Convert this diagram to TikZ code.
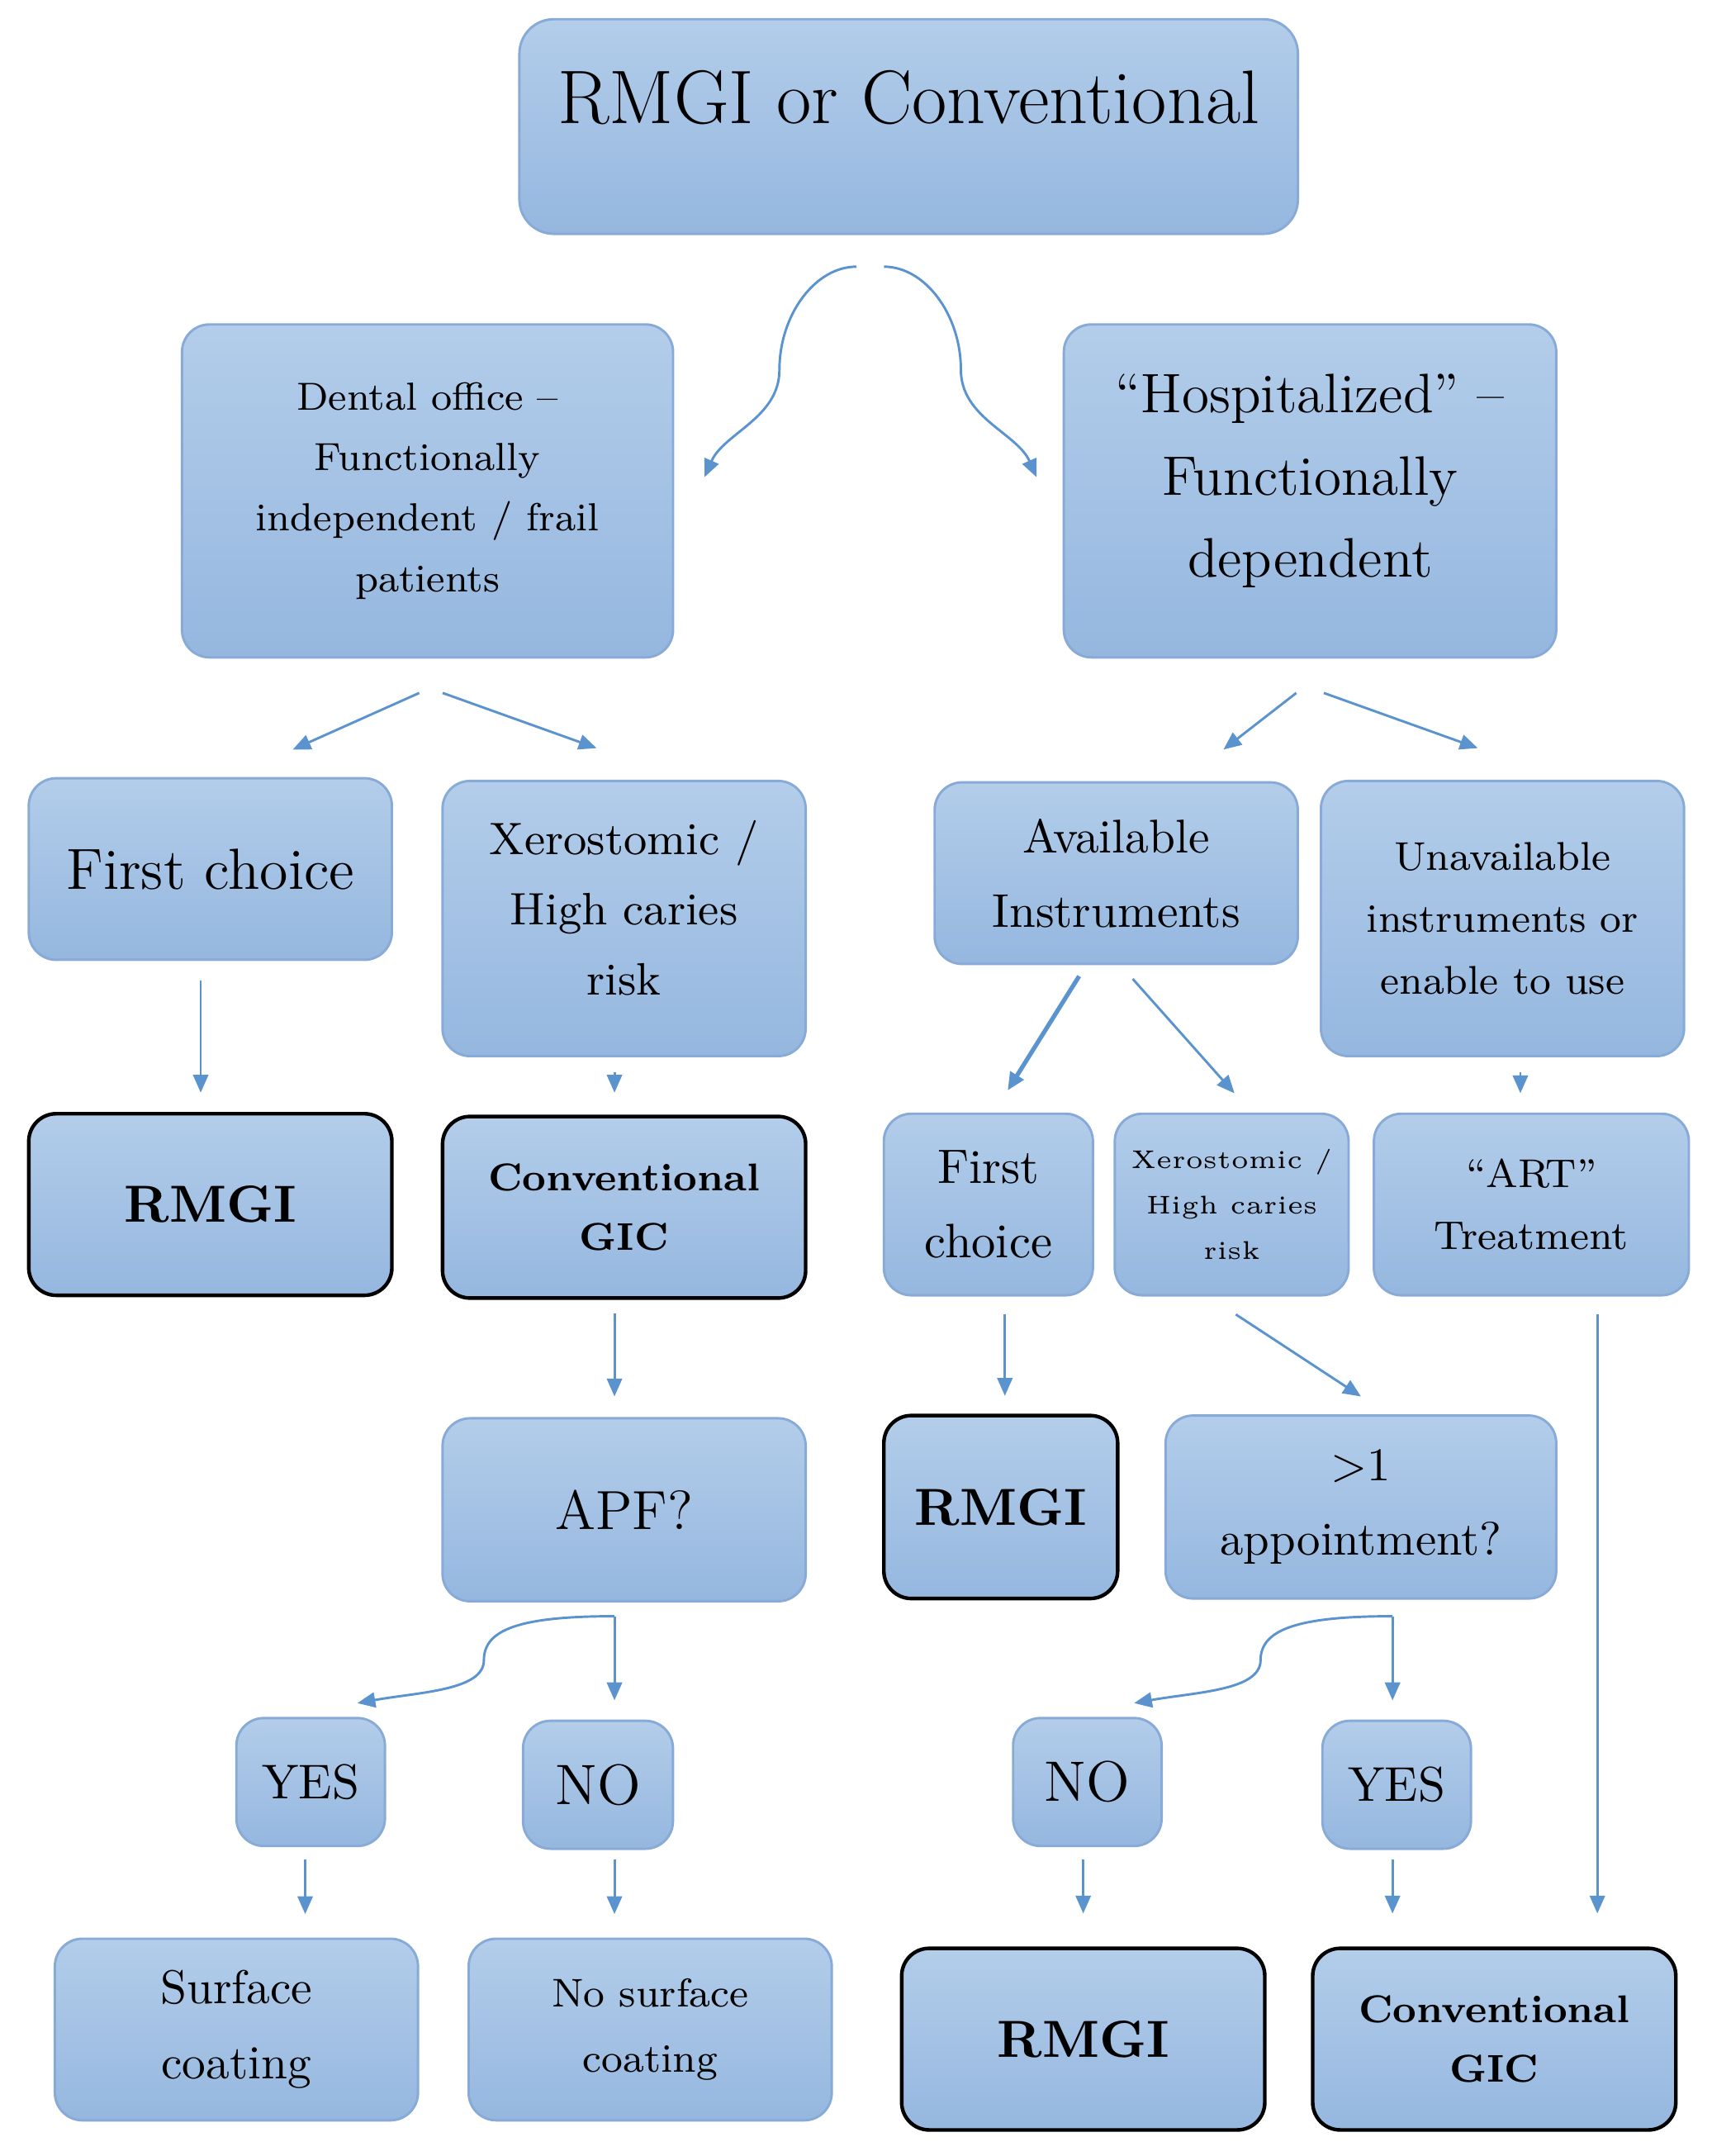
\documentclass[tikz,border=0pt]{standalone}
\usetikzlibrary{arrows.meta,calc}
\definecolor{boxtop}{HTML}{B3CDEA}
\definecolor{boxbot}{HTML}{95B7DF}
\definecolor{boxline}{HTML}{88AAD6}
\definecolor{arrowblue}{HTML}{5B93CF}
\newcommand{\fsz}[2]{\fontsize{#1pt}{#2pt}\selectfont}

\begin{document}
\begin{tikzpicture}[x=0.01cm,y=-0.01cm,
  box/.style={draw=boxline,line width=0.5pt,rounded corners=0.2cm,top color=boxtop,bottom color=boxbot,
    align=center,inner sep=0pt,minimum width=2.64cm,minimum height=1.32cm},
  result/.style={box,draw=black,line width=0.75pt},
  arr/.style={draw=arrowblue,line width=0.5pt,-{Triangle[length=0.13cm,width=0.11cm]}}]
  \useasboundingbox (0,0) rectangle (1245,1568);

  \node[box, minimum width=5.66cm, minimum height=1.56cm, rounded corners=0.25cm, font=\fsz{15.7}{19},
    text height=0.4cm, text depth=0.44cm] (top) at (661,92) {RMGI or Conventional};
  \node[box, minimum width=3.57cm, minimum height=2.42cm, font=\fsz{8.1}{12.5}] (dental) at (311,357)
    {Dental office --\\Functionally\\independent / frail\\patients};
  \node[box, minimum width=3.58cm, minimum height=2.42cm, font=\fsz{11.5}{17}, text depth=0.22cm] (hosp) at (953,357)
    {``Hospitalized'' --\\Functionally\\dependent};

  \node[box, font=\fsz{12}{14}] (first1) at (153,632) {First choice};
  \node[box, minimum height=2cm, font=\fsz{9.4}{14.5}, text depth=0.16cm] (xero1) at (454,668) {Xerostomic /\\High caries\\risk};
  \node[box, font=\fsz{9.8}{15.4}] (avail) at (812,635) {Available\\Instruments};
  \node[box, minimum height=2cm, font=\fsz{8.3}{12.8}] (unavail) at (1093,668)
    {Unavailable\\instruments or\\enable to use};

  \node[result, font=\fsz{10.8}{14}\bfseries] (rmgi1) at (153,876) {RMGI};
  \node[result, font=\fsz{8}{12.2}\bfseries] (conv1) at (454,878) {Conventional\\GIC};
  \node[box, minimum width=1.52cm, font=\fsz{10}{15.4}] (first2) at (719,876) {First\\choice};
  \node[box, minimum width=1.7cm, font=\fsz{5.3}{9.4}] (xero2) at (896,876) {Xerostomic /\\High caries\\risk};
  \node[box, minimum width=2.29cm, font=\fsz{8.3}{12.8}] (art) at (1114,876) {``ART''\\Treatment};

  \node[box, minimum height=1.33cm, font=\fsz{11.4}{14}] (apf) at (454,1098) {APF?};
  \node[result, minimum width=1.7cm, minimum height=1.33cm, font=\fsz{10.8}{14}\bfseries] (rmgi2) at (728,1096) {RMGI};
  \node[box, minimum width=2.84cm, minimum height=1.33cm, font=\fsz{9.7}{15.4}] (appt) at (990,1096)
    {>1\\appointment?};

  \node[box, minimum width=1.08cm, minimum height=0.93cm, font=\fsz{10.1}{12}] (yes1) at (226,1296) {YES};
  \node[box, minimum width=1.09cm, minimum height=0.93cm, font=\fsz{11.8}{12}] (no1) at (435,1298) {NO};
  \node[box, minimum width=1.08cm, minimum height=0.93cm, font=\fsz{11.8}{12}] (no2) at (791,1296) {NO};
  \node[box, minimum width=1.08cm, minimum height=0.93cm, font=\fsz{10.1}{12}] (yes2) at (1016,1298) {YES};

  \node[box, font=\fsz{9.8}{15.6}] (surf) at (172,1476) {Surface\\coating};
  \node[box, font=\fsz{8.3}{13.4}] (nosurf) at (473,1476) {No surface\\coating};
  \node[result, font=\fsz{10.8}{14}\bfseries] (rmgi3) at (788,1483) {RMGI};
  \node[result, font=\fsz{8}{12.2}\bfseries] (conv3) at (1087,1483) {Conventional\\GIC};

  \coordinate (topl) at ($(top.south)+(-38,23)$);
  \coordinate (topr) at ($(top.south)+(-18,23)$);
  \coordinate (apfs) at ($(apf.south)+(-7,10)$);
  \coordinate (appts) at ($(appt.south)+(23,12)$);

  \draw[arr] (topl) .. controls +(-30,0) and +(0,-40) .. ++(-56,75)
    .. controls +(0,35) and +(14,-32) .. ($(dental.east)+(22,-10)$);
  \draw[arr] (topr) .. controls +(30,0) and +(0,-40) .. ++(56,75)
    .. controls +(0,35) and +(-14,-32) .. ($(hosp.west)+(-19,-10)$);

  \draw[arr] ($(dental.south)+(-6,25)$) -- ($(first1.north)+(60,-20)$);
  \draw[arr] ($(dental.south)+(11,25)$) -- ($(xero1.north)+(-20,-23)$);
  \draw[arr] ($(hosp.south)+(-10,25)$) -- ($(avail.north)+(78,-23)$);
  \draw[arr] ($(hosp.south)+(10,25)$) -- ($(unavail.north)+(-18,-23)$);

  \draw[arr] ($(first1.south)+(-7,14)$) -- ($(rmgi1.north)+(-7,-14)$);
  \draw[arr] ($(xero1.south)+(-7,11)$) -- ($(conv1.north)+(-7,-16)$);
  \draw[arr, line width=0.9pt] ($(avail.south)+(-27,8)$) -- ($(first2.north)+(14,-16)$);
  \draw[arr] ($(avail.south)+(12,10)$) -- ($(xero2.north)+(2,-14)$);
  \draw[arr] ($(unavail.south)+(13,11)$) -- ($(art.north)+(-8,-14)$);

  \draw[arr] ($(conv1.south)+(-7,10)$) -- ($(apf.north)+(-7,-15)$);
  \draw[arr] ($(first2.south)+(12,13)$) -- ($(rmgi2.north)+(3,-13)$);
  \draw[arr] ($(xero2.south)+(3,13)$) -- ($(appt.north)+(0,-13)$);
  \draw[arr] ($(art.south)+(48,13)$) -- ($(conv3.north)+(75,-24)$);

  \draw[arr] (apfs) .. controls +(-70,0) and +(0,-22) .. ++(-95,32)
    .. controls +(0,22) and +(45,-8) .. ($(yes1.north)+(34,-10)$);
  \draw[arr] (apfs) -- ($(no1.north)+(12,-14)$);
  \draw[arr] (appts) .. controls +(-70,0) and +(0,-22) .. ++(-96,32)
    .. controls +(0,22) and +(45,-8) .. ($(no2.north)+(34,-10)$);
  \draw[arr] (appts) -- ($(yes2.north)+(-3,-14)$);

  \draw[arr] ($(yes1.south)+(-4,9)$) -- ($(surf.north)+(50,-17)$);
  \draw[arr] ($(no1.south)+(12,7)$) -- ($(nosurf.north)+(-26,-17)$);
  \draw[arr] ($(no2.south)+(-3,9)$) -- ($(rmgi3.north)+(0,-24)$);
  \draw[arr] ($(yes2.south)+(-3,7)$) -- ($(conv3.north)+(-74,-24)$);
\end{tikzpicture}
\end{document}
